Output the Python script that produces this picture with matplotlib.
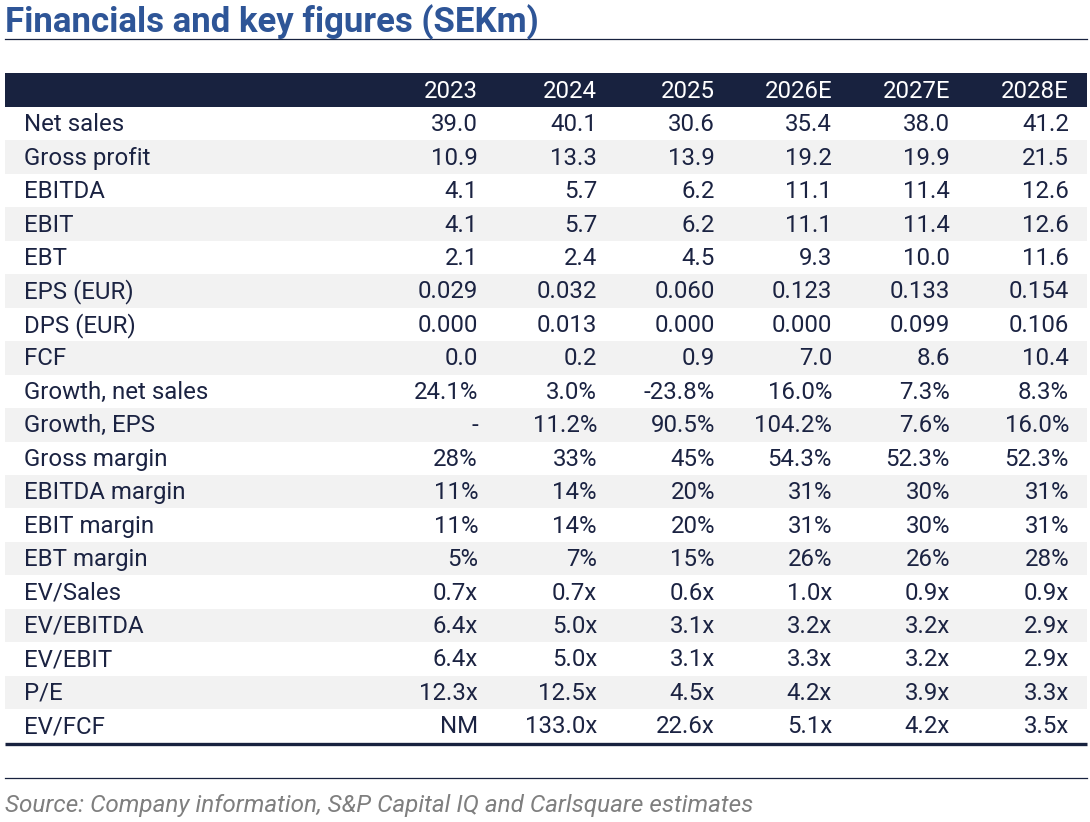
import matplotlib
matplotlib.use("Agg")
import matplotlib.pyplot as plt
from matplotlib.patches import Rectangle

plt.rcParams["font.family"] = ["Roboto", "DejaVu Sans"]

NAVY = "#18223f"
TEXT = "#1b2342"
BLUE = "#2e5597"
STRIPE = "#f2f2f2"
GREY = "#7f7f7f"

TITLE = "Financials and key figures (SEKm)"
SOURCE = "Source: Company information, S&P Capital IQ and Carlsquare estimates"

years = ["2023", "2024", "2025", "2026E", "2027E", "2028E"]
labels = ["Net sales", "Gross profit", "EBITDA", "EBIT", "EBT", "EPS (EUR)",
          "DPS (EUR)", "FCF", "Growth, net sales", "Growth, EPS", "Gross margin",
          "EBITDA margin", "EBIT margin", "EBT margin", "EV/Sales", "EV/EBITDA",
          "EV/EBIT", "P/E", "EV/FCF"]
net_sales = ["39.0", "40.1", "30.6", "35.4", "38.0", "41.2"]
gross_profit = ["10.9", "13.3", "13.9", "19.2", "19.9", "21.5"]
ebitda = ["4.1", "5.7", "6.2", "11.1", "11.4", "12.6"]
ebit = ["4.1", "5.7", "6.2", "11.1", "11.4", "12.6"]
ebt = ["2.1", "2.4", "4.5", "9.3", "10.0", "11.6"]
eps = ["0.029", "0.032", "0.060", "0.123", "0.133", "0.154"]
dps = ["0.000", "0.013", "0.000", "0.000", "0.099", "0.106"]
fcf = ["0.0", "0.2", "0.9", "7.0", "8.6", "10.4"]
growth_sales = ["24.1%", "3.0%", "-23.8%", "16.0%", "7.3%", "8.3%"]
growth_eps = ["-", "11.2%", "90.5%", "104.2%", "7.6%", "16.0%"]
gross_margin = ["28%", "33%", "45%", "54.3%", "52.3%", "52.3%"]
ebitda_margin = ["11%", "14%", "20%", "31%", "30%", "31%"]
ebit_margin = ["11%", "14%", "20%", "31%", "30%", "31%"]
ebt_margin = ["5%", "7%", "15%", "26%", "26%", "28%"]
ev_sales = ["0.7x", "0.7x", "0.6x", "1.0x", "0.9x", "0.9x"]
ev_ebitda = ["6.4x", "5.0x", "3.1x", "3.2x", "3.2x", "2.9x"]
ev_ebit = ["6.4x", "5.0x", "3.1x", "3.3x", "3.2x", "2.9x"]
pe = ["12.3x", "12.5x", "4.5x", "4.2x", "3.9x", "3.3x"]
ev_fcf = ["NM", "133.0x", "22.6x", "5.1x", "4.2x", "3.5x"]

rows = [net_sales, gross_profit, ebitda, ebit, ebt, eps, dps, fcf,
        growth_sales, growth_eps, gross_margin, ebitda_margin, ebit_margin,
        ebt_margin, ev_sales, ev_ebitda, ev_ebit, pe, ev_fcf]

W, H = 1090, 822
fig = plt.figure(figsize=(W / 100, H / 100), dpi=100)
ax = fig.add_axes([0, 0, 1, 1])
ax.set_xlim(0, W)
ax.set_ylim(H, 0)
ax.axis("off")

left, right = 5, 1087
col_right = [478, 597, 715, 832, 950, 1069]
label_x = 24
head_top, head_h = 73, 34
row_h = 33.45
fs = 17.3

# title + rule
ax.text(left, 32, TITLE, fontsize=25, fontweight="bold", color=BLUE,
        ha="left", va="baseline")
ax.plot([left, right], [39.5, 39.5], color=NAVY, lw=0.9)

# header bar
ax.add_patch(Rectangle((left, head_top), right - left, head_h, color=NAVY, lw=0))
for x, y in zip(col_right, years):
    ax.text(x, head_top + head_h / 2 + 1, y, fontsize=fs, color="white",
            ha="right", va="center")

# body
top = head_top + head_h
for i, (lab, vals) in enumerate(zip(labels, rows)):
    y0 = top + i * row_h
    if i % 2 == 1:
        ax.add_patch(Rectangle((left, y0), right - left, row_h, color=STRIPE, lw=0))
    yc = y0 + row_h / 2 + 1
    ax.text(label_x, yc, lab, fontsize=fs, color=TEXT, ha="left", va="center")
    for x, v in zip(col_right, vals):
        ax.text(x, yc, v, fontsize=fs, color=TEXT, ha="right", va="center")

bottom = top + len(labels) * row_h
ax.plot([left, right], [bottom + 1, bottom + 1], color=NAVY, lw=2.4,
        solid_capstyle="butt")
ax.plot([left, right], [778, 778], color=NAVY, lw=0.9)

ax.text(left, 812, SOURCE, fontsize=17.5, style="italic", color=GREY,
        ha="left", va="baseline")

fig.savefig("out.png", dpi=100)
